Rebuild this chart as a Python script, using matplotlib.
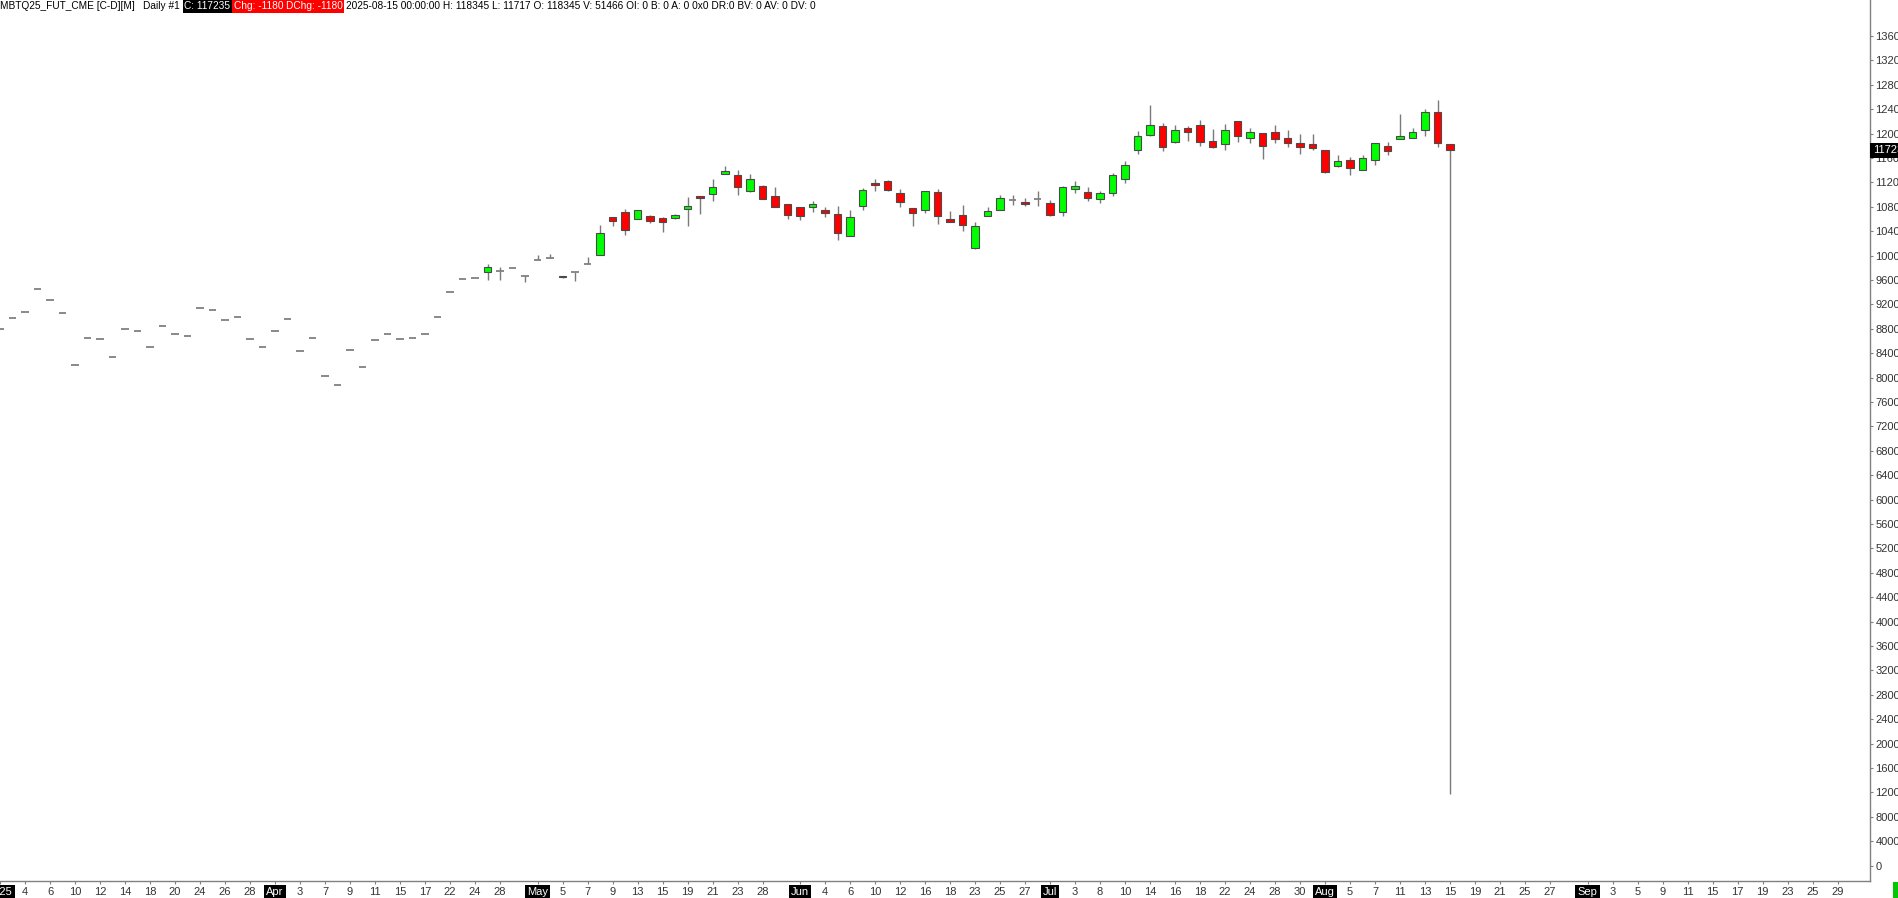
import matplotlib
matplotlib.use('Agg')
import matplotlib.pyplot as plt
import matplotlib.transforms as mtrans
from matplotlib.patches import Rectangle
import numpy as np
import pandas as pd

plt.rcParams['font.family'] = ['Liberation Sans', 'DejaVu Sans']

# trading days of the MBTQ25 contract shown on the chart
holidays = ['2025-04-18', '2025-05-26', '2025-06-19', '2025-07-04']
dates = pd.bdate_range('2025-02-28', '2025-08-15', freq='C', holidays=holidays)
future = pd.bdate_range('2025-08-18', '2025-09-30')

opens = [87900, 89720, 90700, 94470, 92770, 90540, 82020, 86540, 86280, 83330,
         87920, 87590, 85060, 88510, 87100, 86870, 91360, 91130, 89390, 89880,
         86380, 84970, 87590, 89650, 84310, 86540, 80310, 78840, 84470, 81690,
         86110, 87100, 86280, 86540, 87200, 89880, 94080, 96110, 96270,
         97360, 97420, 97910, 96600, 99230, 99550, 96450, 97260, 98570, 100140,
         106270, 107140, 106040, 106540, 106160, 106210, 107580, 109720, 110140, 113320,
         113210, 110630, 111350, 109810, 108500, 107910, 108010, 107520, 106860, 103160,
         108080, 111850, 112270, 110210, 107800, 107520, 110420, 106040, 106700, 101290,
         106540, 107520, 109110, 108780, 109220, 108670, 107090, 110960, 110420, 109320,
         110210, 112600, 117350, 119810, 121290, 118660, 120860, 121350, 118830, 118240,
         122110, 119220, 120040, 120200, 119220, 118500, 118240, 117300, 114630, 115710,
         114070, 115710, 118010, 119160, 119320, 120530, 123580, 118345]
highs = [87900, 89720, 90700, 94470, 92770, 90540, 82020, 86540, 86280, 83330,
         87920, 87590, 85060, 88510, 87100, 86870, 91360, 91130, 89390, 89880,
         86380, 84970, 87590, 89650, 84310, 86540, 80310, 78840, 84470, 81690,
         86110, 87100, 86280, 86540, 87200, 89880, 94080, 96110, 96270,
         98620, 98180, 97910, 96600, 100040, 100260, 96700, 97260, 99720, 105010,
         106300, 107590, 107550, 106700, 106370, 106800, 109550, 109720, 112500, 114680,
         114030, 113370, 111500, 111190, 108500, 107910, 108950, 108010, 108080, 107420,
         111080, 112500, 112400, 110860, 107800, 110600, 110910, 107310, 108290, 105500,
         107910, 109930, 109930, 109390, 110580, 109110, 111450, 112170, 111240, 110630,
         113580, 115450, 120420, 124630, 121680, 121350, 121290, 122170, 120790, 121560,
         122110, 120860, 120040, 121400, 120530, 119930, 119930, 117300, 116440, 116110,
         116440, 118400, 118570, 123150, 120910, 123970, 125430, 118345]
lows = [87900, 89720, 90700, 94470, 92770, 90540, 82020, 86540, 86280, 83330,
        87920, 87590, 85060, 88510, 87100, 86870, 91360, 91130, 89390, 89880,
        86380, 84970, 87590, 89650, 84310, 86540, 80310, 78840, 84470, 81690,
        86110, 87100, 86280, 86540, 87200, 89880, 94080, 96110, 96270,
        96000, 96000, 97910, 95670, 99230, 99550, 96400, 95830, 98570, 100140,
        104840, 103420, 105950, 105290, 103910, 105950, 104850, 106810, 108900, 113320,
        109880, 110470, 109200, 107910, 106040, 105830, 107140, 106370, 102600, 103160,
        107420, 110530, 110600, 107910, 104850, 107030, 105220, 105440, 104080, 101130,
        106540, 107520, 108340, 108080, 108170, 106540, 106440, 110210, 108900, 108670,
        109760, 111940, 116700, 119600, 117190, 118400, 118830, 118010, 117580, 117300,
        118570, 118400, 115830, 118500, 117840, 116700, 117250, 113580, 114470, 113260,
        114070, 114890, 116480, 119160, 119320, 119550, 117750, 11717]
closes = [87900, 89720, 90700, 94470, 92770, 90540, 82020, 86540, 86280, 83330,
          87920, 87590, 85060, 88510, 87100, 86870, 91360, 91130, 89390, 89880,
          86380, 84970, 87590, 89650, 84310, 86540, 80310, 78840, 84470, 81690,
          86110, 87100, 86280, 86540, 87200, 89880, 94080, 96110, 96270,
          98080, 97420, 97910, 96600, 99230, 99550, 96650, 97260, 98570, 103750,
          105620, 104190, 107470, 105620, 105450, 106600, 108080, 109490, 111190, 113810,
          111190, 112500, 109320, 107910, 106700, 106540, 108400, 107030, 103750, 106370,
          110700, 111620, 110750, 108730, 107030, 110530, 106540, 105550, 104960, 104800,
          107260, 109390, 109110, 108400, 109220, 106700, 111190, 111350, 109390, 110210,
          113160, 114800, 119550, 121350, 117750, 120630, 120300, 118570, 117840, 120530,
          119650, 120200, 118010, 119160, 118450, 117750, 117580, 113750, 115450, 114300,
          115940, 118400, 117090, 119550, 120300, 123580, 118415, 117235]

day_ticks = ['2025-03-04', '2025-03-06', '2025-03-10', '2025-03-12', '2025-03-14',
             '2025-03-18', '2025-03-20', '2025-03-24', '2025-03-26', '2025-03-28',
             '2025-04-03', '2025-04-07', '2025-04-09', '2025-04-11', '2025-04-15',
             '2025-04-17', '2025-04-22', '2025-04-24', '2025-04-28',
             '2025-05-05', '2025-05-07', '2025-05-09', '2025-05-13', '2025-05-15',
             '2025-05-19', '2025-05-21', '2025-05-23', '2025-05-28',
             '2025-06-04', '2025-06-06', '2025-06-10', '2025-06-12', '2025-06-16',
             '2025-06-18', '2025-06-23', '2025-06-25', '2025-06-27',
             '2025-07-03', '2025-07-08', '2025-07-10', '2025-07-14', '2025-07-16',
             '2025-07-18', '2025-07-22', '2025-07-24', '2025-07-28', '2025-07-30',
             '2025-08-05', '2025-08-07', '2025-08-11', '2025-08-13', '2025-08-15',
             '2025-08-19', '2025-08-21', '2025-08-25', '2025-08-27',
             '2025-09-03', '2025-09-05', '2025-09-09', '2025-09-11', '2025-09-15',
             '2025-09-17', '2025-09-19', '2025-09-23', '2025-09-25', '2025-09-29']
month_ticks = ['2025-04-01', '2025-05-01', '2025-06-02', '2025-07-01',
               '2025-08-01', '2025-09-01']
year_tick = '2025-02-28'

header_parts = [
    ('MBTQ25_FUT_CME [C-D][M]', None),
    ('Daily #1', None),
    ('C: 117235', 'black'),
    ('Chg: -1180', '#ff0000'),
    ('DChg: -1180', '#ff0000'),
    ('2025-08-15 00:00:00 H: 118345 L: 11717 O: 118345 V: 51466 OI: 0 B: 0 '
     'A: 0 0x0 DR:0 BV: 0 AV: 0 DV: 0', None),
]
header_gaps = [0, 8, 5, 3, 3, 3]

W, H = 1898, 898
fig = plt.figure(figsize=(W / 100, H / 100), dpi=100)
fig.patch.set_facecolor('white')
ax = fig.add_axes([0, 17 / H, 1870 / W, 1 - 17 / H])

o = np.array(opens, float)
h = np.array(highs, float)
l = np.array(lows, float)
c = np.array(closes, float)
x = np.arange(len(dates))

up = c > o
dn = c < o
flat = c == o

# wicks
has_wick = h > l
ax.vlines(x[has_wick], l[has_wick], h[has_wick], color='#7a7a7a', lw=1.0, zorder=1)
# bodies
ax.bar(x[up], (c - o)[up], bottom=o[up], width=0.62, color='#00ff00',
       edgecolor='#4a4a4a', lw=0.8, zorder=2)
ax.bar(x[dn], (o - c)[dn], bottom=c[dn], width=0.62, color='#ff0000',
       edgecolor='#4a4a4a', lw=0.8, zorder=2)
ax.hlines(o[flat], x[flat] - 0.3, x[flat] + 0.3, color='#808080', lw=1.3, zorder=2)

ax.set_xlim(0, 1870 / 12.5)
ax.set_ylim(-2508, 141888)

all_dates = dates.append(future)
pos = {d.strftime('%Y-%m-%d'): i for i, d in enumerate(all_dates)}
tick_pos = [pos[year_tick]] + [pos[d] for d in month_ticks] + [pos[d] for d in day_ticks]
tick_lab = ['2025'] + [pd.Timestamp(d).strftime('%b') for d in month_ticks] + \
           [str(pd.Timestamp(d).day) for d in day_ticks]
ax.set_xticks(tick_pos)
ax.set_xticklabels(tick_lab)
n_box = 1 + len(month_ticks)
for i, t in enumerate(ax.get_xticklabels()):
    t.set_color('#333333')
    if i < n_box:
        t.set_color('white')
        t.set_bbox(dict(boxstyle='square,pad=0.2', fc='black', ec='none'))

ax.set_yticks(np.arange(0, 136001, 4000))
ax.yaxis.tick_right()
ax.tick_params(axis='y', length=2.5, width=0.8, color='#808080', pad=1.5,
               labelsize=8, labelcolor='#333333')
ax.tick_params(axis='x', length=2.5, width=0.8, color='#808080', pad=2,
               labelsize=8)
for s in ['top', 'left']:
    ax.spines[s].set_visible(False)
for s in ['right', 'bottom']:
    ax.spines[s].set_color('#808080')
    ax.spines[s].set_linewidth(1.0)

# last price tag
tr = mtrans.blended_transform_factory(ax.transAxes, ax.transData)
ax.text(1.0015, c[-1], str(int(c[-1])), transform=tr, ha='left', va='center',
        fontsize=8, color='white', clip_on=False,
        bbox=dict(boxstyle='square,pad=0.25', fc='black', ec='none'))

# header line, laid out left to right
renderer = fig.canvas.get_renderer()
cur = 0
for (txt, bg), gap in zip(header_parts, header_gaps):
    cur += gap
    if bg is not None:
        kw = dict(color='white',
                  bbox=dict(boxstyle='square,pad=0.15', fc=bg, ec='none'))
    else:
        kw = dict(color='black')
    t = fig.text(cur / W, 1 - 6 / H, txt, ha='left', va='center', fontsize=7.3, **kw)
    cur += t.get_window_extent(renderer=renderer).width

fig.patches.append(Rectangle((1893 / W, 0), 5 / W, 16 / H, transform=fig.transFigure,
                             fc='#00c800', ec='none'))

fig.savefig('out.png', dpi=100)
